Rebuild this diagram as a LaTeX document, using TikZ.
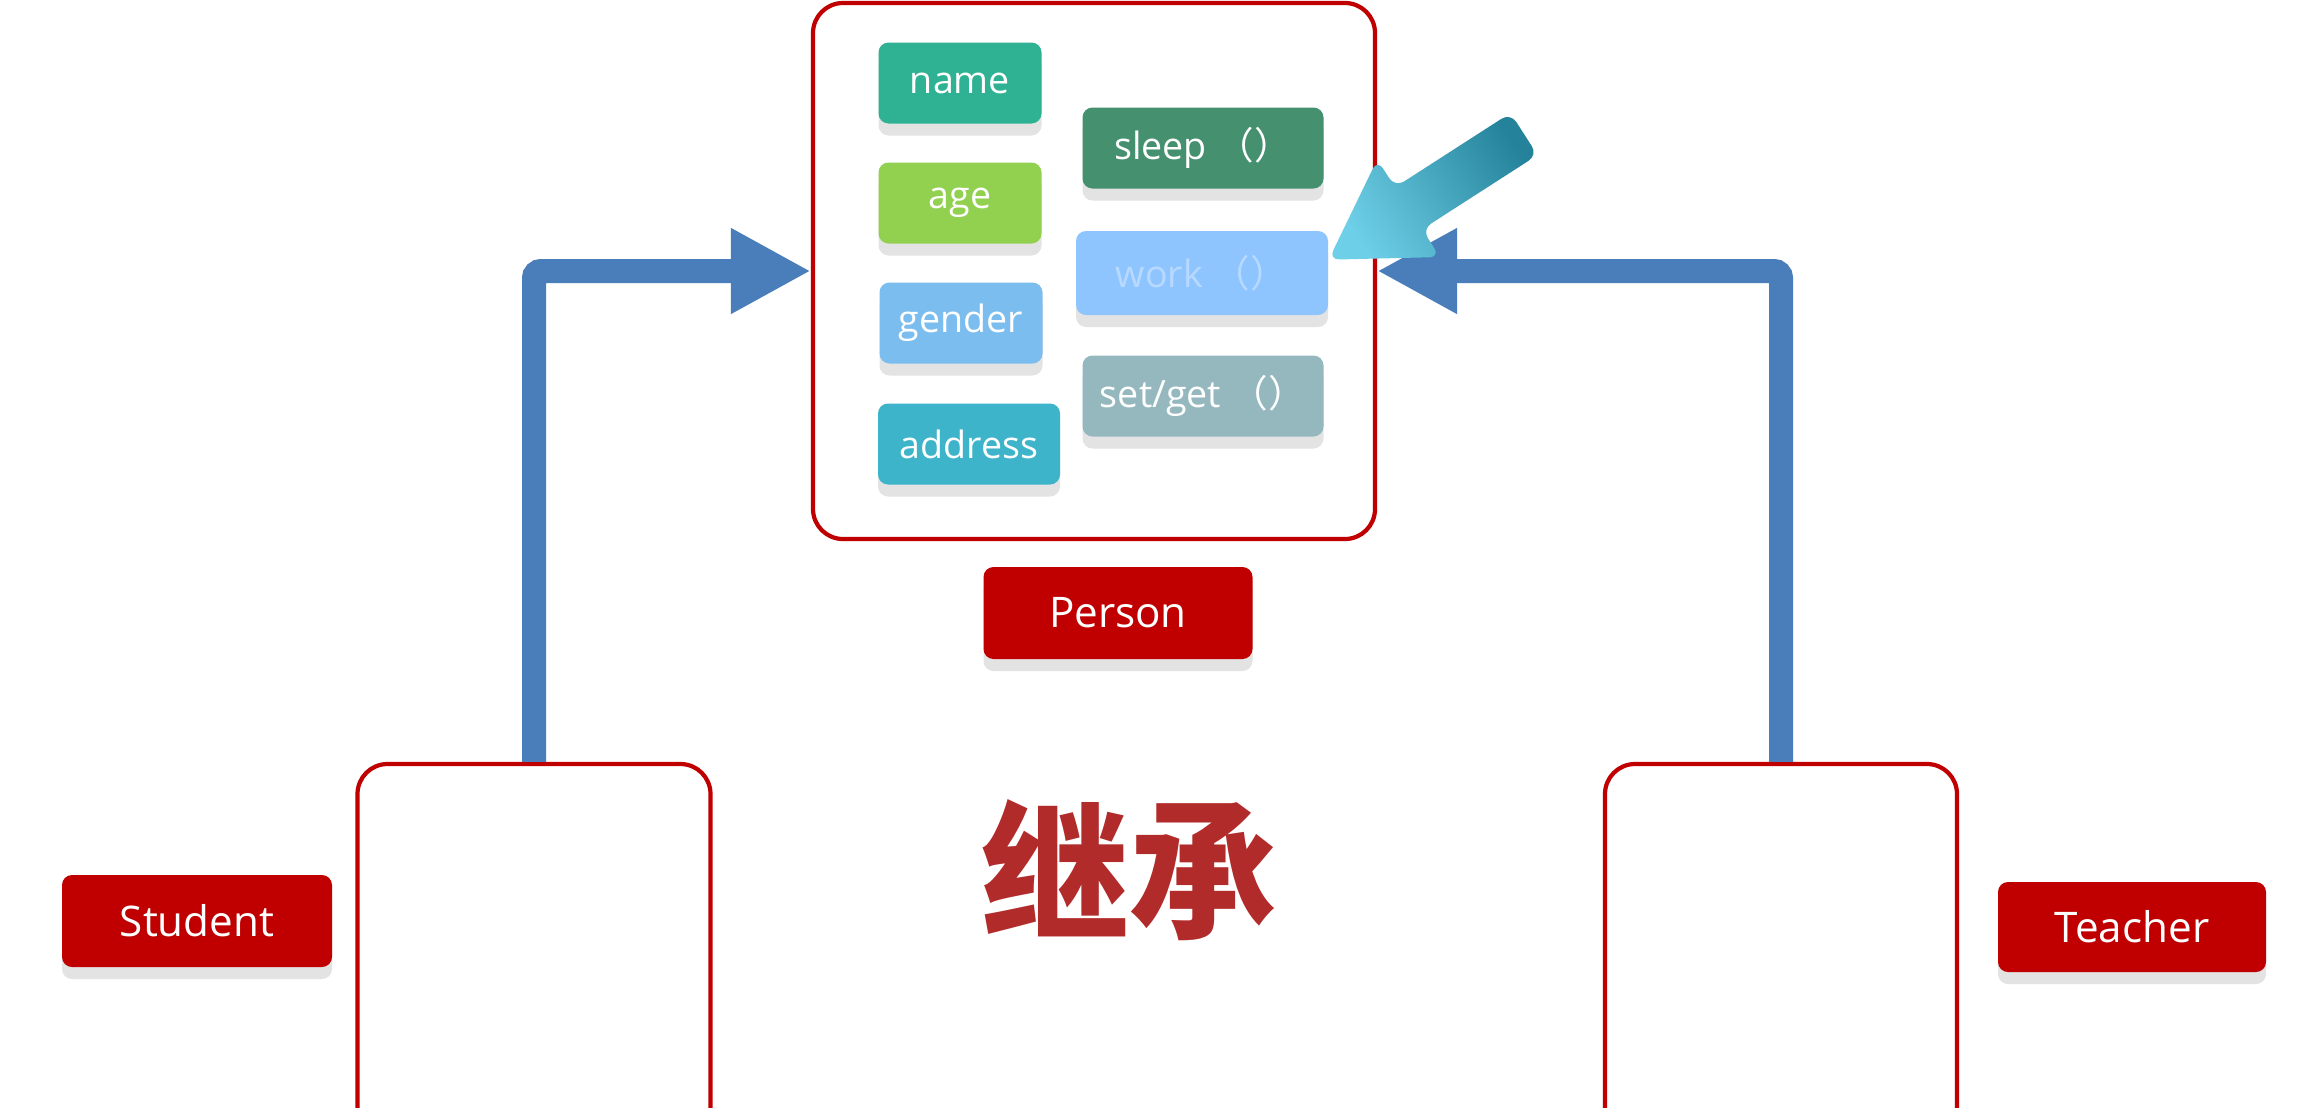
\documentclass[tikz,border=0pt]{standalone}
\usepackage{fontspec}
\setmainfont{Open Sans}
\newfontfamily\cjk{Noto Sans CJK SC}
\usetikzlibrary{arrows.meta, positioning, shadows, calc}

\definecolor{boxred}{HTML}{C00000}
\definecolor{inheritblue}{HTML}{4A7EBB}
\definecolor{shadowgray}{HTML}{E3E3E3}
\definecolor{namegreen}{HTML}{2FB293}
\definecolor{agegreen}{HTML}{92D050}
\definecolor{genderblue}{HTML}{7BBDEE}
\definecolor{addresscyan}{HTML}{3DB4C9}
\definecolor{sleepgreen}{HTML}{45906F}
\definecolor{workblue}{HTML}{8EC5FF}
\definecolor{worktext}{HTML}{B8D9FF}
\definecolor{setgetgray}{HTML}{95B8BF}
\definecolor{pointerdark}{HTML}{24839A}
\definecolor{pointerlight}{HTML}{6ED0E8}
\definecolor{titlered}{HTML}{B22B2B}

\tikzset{
  tag/.style={rounded corners=0.1cm, text=white, font=\fontsize{10.7}{12}\selectfont,
    minimum height=0.81cm, minimum width=1.63cm, inner sep=0pt,
    general shadow={fill=shadowgray, shadow yshift=-0.12cm}},
  classlabel/.style={fill=boxred, rounded corners=0.1cm, text=white, inner sep=0pt,
    font=\fontsize{12}{14}\selectfont, minimum width=2.69cm, minimum height=0.92cm,
    general shadow={fill=shadowgray, shadow yshift=-0.12cm}},
  classbox/.style={draw=boxred, line width=1.2pt, rounded corners=0.3cm, fill=white},
  inherit/.style={draw=inheritblue, line width=0.24cm, rounded corners=2pt,
    -{Triangle[length=0.8cm, width=0.8cm]}},
}

\begin{document}
\begin{tikzpicture}
  \useasboundingbox (0,0) rectangle (23.21,11.07);
  \clip (0,0) rectangle (23.21,11.07);
  \fill[white] (0,0) rectangle (23.21,11.07);

  % subclasses, drawn first so the arrows sit on top
  \node[classbox, minimum width=3.53cm, minimum height=4cm] (student) at (5.34,1.43) {};
  \node[classbox, minimum width=3.52cm, minimum height=4cm] (teacher) at (17.81,1.43) {};
  \node[classlabel, minimum width=2.70cm] (studentlabel) at (1.97,1.86) {Student};
  \node[classlabel, minimum width=2.68cm, minimum height=0.90cm] (teacherlabel) at (21.32,1.80) {Teacher};

  % parent class with its members
  \node[classbox, minimum width=5.62cm, minimum height=5.36cm] (person) at (10.94,8.36) {};
  \node[tag, fill=namegreen] (name) at (9.60,10.24) {name};
  \node[tag, fill=agegreen] (age) at (9.60,9.04) {age};
  \node[tag, fill=genderblue] (gender) at (9.61,7.84) {gender};
  \node[tag, fill=addresscyan, minimum width=1.82cm] (address) at (9.69,6.63) {address};
  \node[tag, fill=sleepgreen, minimum width=2.41cm] (sleep) at (12.03,9.59) {sleep {\cjk （）}};
  \node[tag, fill=workblue, text=worktext, minimum width=2.52cm, minimum height=0.84cm] (work) at (12.02,8.34) {work {\cjk （）}};
  \node[tag, fill=setgetgray, minimum width=2.41cm] (setget) at (12.03,7.11) {set/get {\cjk （）}};
  \node[classlabel] (personlabel) at (11.18,4.94) {Person};

  % inheritance arrows
  \draw[inherit] (student.north) |- (person.west);
  \draw[inherit] (teacher.north) |- (person.east);

  % pointer onto work()
  \coordinate (ptr) at (15.24,9.73);
  \coordinate (tip) at (work.6);
  \coordinate (hb) at ($(tip)!0.95cm!(ptr)$);
  \shade[top color=pointerdark, bottom color=pointerlight, shading angle=-58, rounded corners=3pt]
    ($(ptr)!0.25cm!90:(tip)$) -- ($(hb)!0.25cm!-90:(ptr)$) -- ($(hb)!0.58cm!-90:(ptr)$)
    -- (tip) -- ($(hb)!0.58cm!90:(ptr)$) -- ($(hb)!0.25cm!90:(ptr)$)
    -- ($(ptr)!0.25cm!-90:(tip)$) -- cycle;

  \node[text=titlered, font=\cjk\bfseries\fontsize{42}{42}\selectfont] (inheritance) at (11.29,2.37) {继承};
\end{tikzpicture}
\end{document}
